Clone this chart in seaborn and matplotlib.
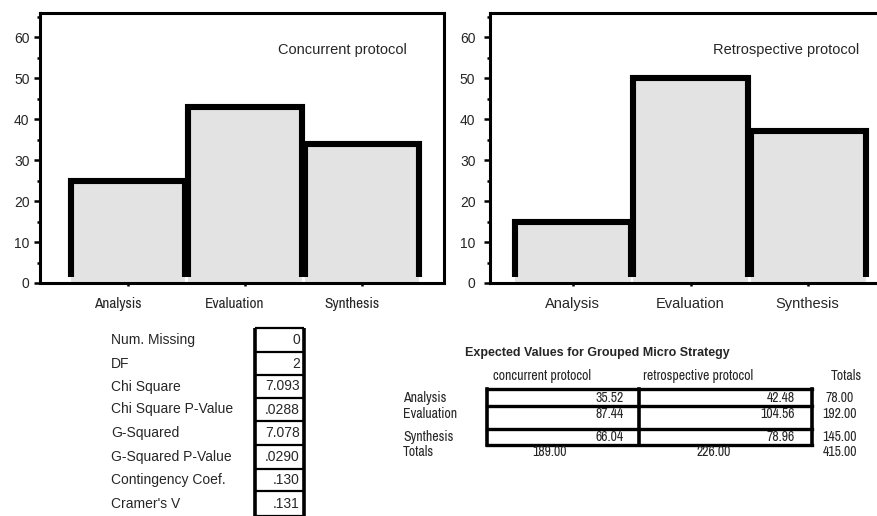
import matplotlib
matplotlib.use("Agg")
import matplotlib.pyplot as plt
from matplotlib import font_manager
from matplotlib.font_manager import FontProperties
from matplotlib.ticker import MultipleLocator
from matplotlib.transforms import ScaledTranslation
import seaborn as sns
import pandas as pd

# ---------------- data ----------------
categories = ["Analysis", "Evaluation", "Synthesis"]
concurrent_values = [25, 43, 34]
retrospective_values = [15, 50, 37]
panel_titles = ["Concurrent protocol", "Retrospective protocol"]

stat_labels = ["Num. Missing", "DF", "Chi Square", "Chi Square P-Value",
               "G-Squared", "G-Squared P-Value", "Contingency Coef.", "Cramer's V"]
stat_values = ["0", "2", "7.093", ".0288", "7.078", ".0290", ".130", ".131"]

exp_title = "Expected Values for Grouped Micro Strategy"
exp_columns = ["concurrent protocol", "retrospective protocol", "Totals"]
exp_rows = ["Analysis", "Evaluation", "Synthesis"]
exp_concurrent = ["35.52", "87.44", "66.04"]
exp_retrospective = ["42.48", "104.56", "78.96"]
exp_row_totals = ["78.00", "192.00", "145.00"]
exp_col_totals = ["189.00", "226.00", "415.00"]

# ---------------- fonts ----------------
sns.set_style("white")
fl = font_manager.fontManager.ttflist
names = {f.name for f in fl}
REG = "Liberation Sans" if "Liberation Sans" in names else "DejaVu Sans"
plt.rcParams["font.family"] = [REG, "DejaVu Sans"]

STRETCH = {"ultra-condensed": 100, "extra-condensed": 200, "condensed": 300,
           "semi-condensed": 400, "normal": 500}


def stretch_num(f):
    s = f.stretch
    if isinstance(s, (int, float)):
        return s
    return STRETCH.get(str(s), 500)


def is_regular(f):
    return f.style == "normal" and f.weight in (400, "normal", "regular")


candidates = []
for f in fl:
    if not is_regular(f) or "Mono" in f.name or "Serif" in f.name:
        continue
    nm = f.name
    if nm in ("Liberation Sans Narrow", "Arial Narrow"):
        rank = 0
    elif "Narrow" in nm or ("Condensed" in nm and "Semi" not in nm):
        rank = 1
    elif stretch_num(f) <= 300:
        rank = 1
    elif "Condensed" in nm or stretch_num(f) < 500:
        rank = 2
    else:
        continue
    candidates.append((rank, nm, f.fname))
candidates.sort()
narrow_path = candidates[0][2] if candidates else None
narrow_rank = candidates[0][0] if candidates else 9
NSCALE = {0: 1.0, 1: 1.05, 2: 0.82}.get(narrow_rank, 0.78)


def nfont(size):
    if narrow_path:
        return FontProperties(fname=narrow_path, size=size * NSCALE)
    return FontProperties(family=[REG, "DejaVu Sans"], size=size * NSCALE)


W, H = 878, 516
fig = plt.figure(figsize=(W / 100, H / 100), dpi=100)


def frac_box(x0, y0, x1, y1):
    return [x0 / W, 1 - y1 / H, (x1 - x0) / W, (y1 - y0) / H]


def draw_panel(ax, values, title, xlim, xprop, ypad, title_x, show_right, xshift):
    df = pd.DataFrame({"cat": categories, "val": values})
    sns.barplot(data=df, x="cat", y="val", color="#e3e3e3", saturation=1,
                width=0.98, linewidth=0, ax=ax)
    base = 1.5
    for p in ax.patches:
        x0 = p.get_x()
        x1 = x0 + p.get_width()
        h = p.get_height()
        ax.plot([x0, x0, x1, x1], [base, h, h, base], color="black", lw=4.4,
                solid_joinstyle="miter", solid_capstyle="butt", zorder=3)
    ax.set_xlim(*xlim)
    ax.set_ylim(0, 65.9)
    ax.set_xlabel("")
    ax.set_ylabel("")
    ax.yaxis.set_major_locator(MultipleLocator(10))
    ax.yaxis.set_minor_locator(MultipleLocator(5))
    ax.tick_params(axis="y", which="major", direction="out", length=4.5,
                   width=1.8, color="black", labelsize=10, pad=ypad, left=True)
    ax.tick_params(axis="y", which="minor", direction="out", length=2.2,
                   width=1.8, color="black", left=True)
    ax.tick_params(axis="x", which="major", direction="out", length=2.0,
                   width=1.8, color="black", pad=8, bottom=True)
    off = ScaledTranslation(xshift / 100, 0, fig.dpi_scale_trans)
    for lab in ax.get_xticklabels():
        lab.set_fontproperties(xprop)
        lab.set_transform(lab.get_transform() + off)
    for s in ["left", "top", "bottom", "right"]:
        ax.spines[s].set_color("black")
        ax.spines[s].set_linewidth(2.2)
        ax.spines[s].set_visible(True)
    if not show_right:
        ax.spines["right"].set_visible(False)
    ax.text(title_x, 0.863, title, transform=ax.transAxes, fontsize=10.5,
            ha="left", va="center")


ax1 = fig.add_axes(frac_box(40, 13, 444, 283))
draw_panel(ax1, concurrent_values, panel_titles[0], (-0.752, 2.70), nfont(10.5), 3,
           0.589, True, -10)

ax2 = fig.add_axes(frac_box(490, 13, 880, 283))
draw_panel(ax2, retrospective_values, panel_titles[1], (-0.706, 2.61),
           FontProperties(family=[REG, "DejaVu Sans"], size=10.5), 6, 0.572, False, -1)

# ---------------- overlay for the tables ----------------
ov = fig.add_axes([0, 0, 1, 1])
ov.set_xlim(0, W)
ov.set_ylim(H, 0)
ov.axis("off")
ov.patch.set_alpha(0)

# stats table
bounds = [328, 352, 375, 398, 421, 445, 469, 491, 516]
bx0, bx1 = 255, 304
for i, (lab, val) in enumerate(zip(stat_labels, stat_values)):
    yc = (bounds[i] + bounds[i + 1]) / 2
    ov.text(111, yc, lab, fontsize=10, ha="left", va="center")
    ov.text(bx1 - 4, yc, val, fontsize=10, ha="right", va="center")
for y in bounds:
    ov.plot([bx0, bx1], [y, y], color="black", lw=1.6, solid_capstyle="butt")
for x in (bx0, bx1):
    ov.plot([x, x], [bounds[0], bounds[-1]], color="black", lw=2.6, solid_capstyle="butt")

# expected values table
ov.text(465, 353, exp_title, fontsize=9, fontweight="bold", ha="left", va="center")
col_centers = [542, 698, 846]
for cx, name in zip(col_centers, exp_columns):
    ov.text(cx, 376, name, fontproperties=nfont(9.5), ha="center", va="center")
tx0, tmid, tx1 = 487, 639, 812
row_lines = [389, 406, 429, 445]
for y in row_lines:
    ov.plot([tx0, tx1], [y, y], color="black", lw=2.4, solid_capstyle="projecting")
for x in (tx0, tmid, tx1):
    ov.plot([x, x], [row_lines[0], row_lines[-1]], color="black", lw=2.6,
            solid_capstyle="projecting")
row_y = [398, 414, 437]
for yc, rname, v1, v2, vt in zip(row_y, exp_rows, exp_concurrent, exp_retrospective,
                                 exp_row_totals):
    ov.text(403, yc, rname, ha="left", va="center", fontproperties=nfont(9.5))
    ov.text(624, yc, v1, ha="right", va="center", fontproperties=nfont(9.5))
    ov.text(795, yc, v2, ha="right", va="center", fontproperties=nfont(9.5))
    ov.text(840, yc, vt, ha="center", va="center", fontproperties=nfont(9.5))
ov.text(403, 452, "Totals", ha="left", va="center", fontproperties=nfont(9.5))
ov.text(567, 452, exp_col_totals[0], ha="right", va="center", fontproperties=nfont(9.5))
ov.text(731, 452, exp_col_totals[1], ha="right", va="center", fontproperties=nfont(9.5))
ov.text(840, 452, exp_col_totals[2], ha="center", va="center", fontproperties=nfont(9.5))

fig.savefig("out.png", dpi=100)
